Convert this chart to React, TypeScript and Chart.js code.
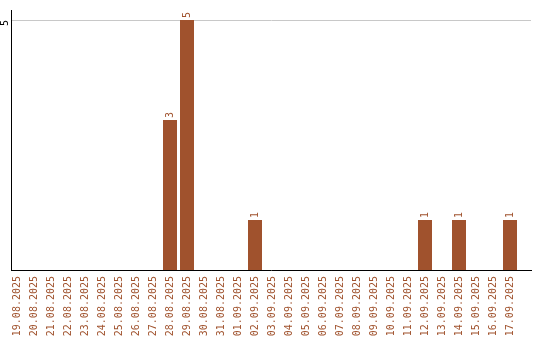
import React, { useEffect, useRef } from "react";
import { Chart, registerables } from "chart.js";

Chart.register(...registerables);

// Daily dates shown on the x axis
const dateLabels: string[] = [
  "19.08.2025", "20.08.2025", "21.08.2025", "22.08.2025", "23.08.2025",
  "24.08.2025", "25.08.2025", "26.08.2025", "27.08.2025", "28.08.2025",
  "29.08.2025", "30.08.2025", "31.08.2025", "01.09.2025", "02.09.2025",
  "03.09.2025", "04.09.2025", "05.09.2025", "06.09.2025", "07.09.2025",
  "08.09.2025", "09.09.2025", "10.09.2025", "11.09.2025", "12.09.2025",
  "13.09.2025", "14.09.2025", "15.09.2025", "16.09.2025", "17.09.2025",
];

// Count per day
const counts: number[] = [
  0, 0, 0, 0, 0, 0, 0, 0, 0, 3,
  5, 0, 0, 0, 1, 0, 0, 0, 0, 0,
  0, 0, 0, 0, 1, 0, 1, 0, 0, 1,
];

// Only labelled y tick
const yTicks: number[] = [5];

const BAR_COLOR = "#A0522D";
const FONT_FAMILY = "'DejaVu Sans Mono', monospace";

// Writes each non-zero value vertically above its bar
const valueLabels = {
  id: "valueLabels",
  afterDatasetsDraw(chart: Chart) {
    const ctx = chart.ctx;
    const meta = chart.getDatasetMeta(0);
    ctx.save();
    ctx.fillStyle = BAR_COLOR;
    ctx.font = `10px ${FONT_FAMILY}`;
    ctx.textAlign = "left";
    ctx.textBaseline = "middle";
    meta.data.forEach((bar: any, i: number) => {
      const v = counts[i];
      if (!v) return;
      ctx.save();
      ctx.translate(bar.x, bar.y - 2);
      ctx.rotate(-Math.PI / 2);
      ctx.fillText(String(v), 0, 0);
      ctx.restore();
    });
    ctx.restore();
  },
};

export default function App() {
  const canvasRef = useRef<HTMLCanvasElement | null>(null);

  useEffect(() => {
    if (!canvasRef.current) return;
    const chart = new Chart(canvasRef.current, {
      type: "bar",
      data: {
        datasets: [
          {
            data: counts.map((v, i) => ({ x: i, y: v })),
            backgroundColor: BAR_COLOR,
            borderWidth: 0,
            barPercentage: 14 / 17,
            categoryPercentage: 1,
          },
        ],
      },
      options: {
        responsive: false,
        animation: false,
        layout: { padding: { top: 10, right: 9, left: 0, bottom: 0 } },
        plugins: {
          legend: { display: false },
          tooltip: { enabled: false },
        },
        scales: {
          x: {
            type: "linear",
            offset: false,
            min: -0.353,
            max: 30.235,
            afterBuildTicks: (scale: any) => {
              scale.ticks = dateLabels.map((_, i) => ({ value: i }));
            },
            afterFit: (scale: any) => {
              scale.height = 70;
              scale.paddingLeft = 0;
              scale.paddingRight = 0;
            },
            grid: { display: false, drawTicks: false, offset: false },
            border: { display: true, color: "#000", width: 1 },
            ticks: {
              autoSkip: false,
              minRotation: 90,
              maxRotation: 90,
              padding: 6,
              color: BAR_COLOR,
              font: { family: FONT_FAMILY, size: 10 },
              callback: (value: any) => dateLabels[Math.round(Number(value))] ?? "",
            },
          },
          y: {
            type: "linear",
            min: 0,
            max: 5.2,
            afterBuildTicks: (scale: any) => {
              scale.ticks = yTicks.map((v) => ({ value: v }));
            },
            afterFit: (scale: any) => {
              scale.width = 11;
              scale.paddingTop = 0;
              scale.paddingBottom = 0;
            },
            grid: { color: "#c8c8c8", drawTicks: false },
            border: { display: true, color: "#000", width: 1 },
            ticks: {
              minRotation: 90,
              maxRotation: 90,
              padding: 6,
              color: "#000",
              font: { family: FONT_FAMILY, size: 10 },
            },
          },
        },
      },
      plugins: [valueLabels],
    } as any);
    return () => chart.destroy();
  }, []);

  return (
    <div style={{ position: "absolute", left: 0, top: 0, width: 540, height: 340, background: "#fff" }}>
      <canvas ref={canvasRef} width={540} height={340} style={{ display: "block" }} />
    </div>
  );
}
